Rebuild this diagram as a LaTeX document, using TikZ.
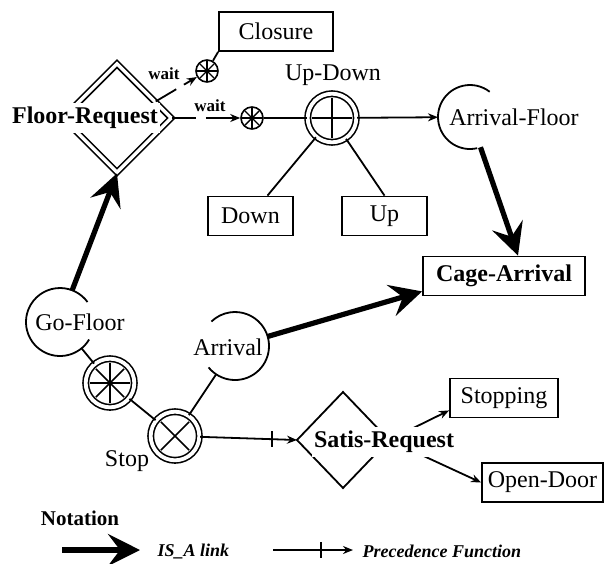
\documentclass[tikz,border=0pt]{standalone}
\usepackage{fontspec}
\setmainfont{Liberation Serif}
\usetikzlibrary{shapes.geometric,arrows.meta,calc}
\begin{document}
\begin{tikzpicture}[x=0.5pt,y=-0.5pt,line width=0.9pt,>={Stealth[length=5pt,width=4pt]},
	every node/.style={font=\fontsize{12}{14}\selectfont},
	box/.style={draw,rectangle,minimum height=19.5pt,inner sep=1pt},
	dcirc/.style={draw,circle,double,double distance=1.9pt,line width=0.8pt,minimum size=24.3pt,inner sep=0pt},
	wcirc/.style={draw,circle,line width=0.8pt,minimum size=11pt,inner sep=0pt},
	ecirc/.style={circle,minimum size=#1,inner sep=0pt,outer sep=0pt},
	lbl/.style={fill=white,inner xsep=1pt,inner ysep=2pt},
	boldlbl/.style={font=\fontsize{12}{14}\selectfont\bfseries},
	waitlbl/.style={font=\fontsize{8.5}{10}\selectfont\bfseries},
	notelbl/.style={font=\fontsize{9}{11}\selectfont\bfseries\itshape,anchor=west},
	isa/.style={line width=2.6pt,-{Stealth[length=16pt,width=16pt,inset=6pt]}},
	tickmark/.style={minimum height=7pt,minimum width=0pt,inner sep=0pt}]
	\useasboundingbox (0,0) rectangle (604,563);
	\node[box,minimum width=57pt] (closure) at (276,31.5) {Closure};
	\node[draw,diamond,double,double distance=1.7pt,line width=0.8pt,minimum width=54.5pt,minimum height=54.5pt,inner sep=0pt] (freq) at (117,118) {};
	\node[wcirc] (w1) at (207,71) {};
	\node[wcirc] (w2) at (252,118) {};
	\node[dcirc] (ud) at (332,118) {};
	\node (udlbl) at (333,75) {Up-Down};
	\node[ecirc=32pt] (af) at (470,117) {};
	\node[box,minimum width=42.5pt] (down) at (250.5,216) {Down};
	\node[box,minimum width=42.5pt] (up) at (384.5,216) {Up};
	\node[box,boldlbl,minimum width=81pt] (cage) at (504,276) {Cage-Arrival};
	\node[ecirc=34pt] (gf) at (60,322) {};
	\node[ecirc=34pt] (arr) at (235,346) {};
	\node[dcirc] (wh) at (110,383) {};
	\node[dcirc] (stop) at (175,436) {};
	\node (stoplbl) at (127,461) {Stop};
	\node[diamond,minimum width=46pt,minimum height=48pt,inner sep=0pt,outer sep=0pt] (sr) at (343,440) {};
	\node[box,minimum width=54pt] (stopping) at (504,398) {Stopping};
	\node[box,minimum width=60.5pt] (od) at (542.5,482.5) {Open-Door};

	\draw (af.center) ++(77:32) arc[start angle=77,end angle=308,radius=32];
	\draw (gf.center) ++(31:34) arc[start angle=31,end angle=324,radius=34];
	\draw (arr.center) ++(141:34) arc[start angle=141,end angle=-134,radius=34];
	\draw ($(sr.north)!.76!(sr.east)$) -- (sr.north) -- (sr.west) -- (sr.south) -- ($(sr.south)!.8!(sr.east)$);

	\draw[line width=0.8pt] (ud.center) ++(-20,0) -- ++(40,0) (ud.center) ++(0,-20) -- ++(0,40);
	\foreach \a in {0,45,90,135}
		\draw[line width=0.8pt] (wh.center) ++(\a:20) -- ++(\a:-40);
	\foreach \a in {45,135}
		\draw[line width=0.8pt] (stop.center) ++(\a:20) -- ++(\a:-40);
	\foreach \c in {w1,w2}
		\foreach \a in {0,45,90,135}
			\draw[line width=0.7pt] (\c.center) ++(\a:10) -- ++(\a:-20);

	\draw (closure.south west) -- (w1);
	\coordinate (fr1) at ($(freq.north)!.7!(freq.east)$);
	\draw (fr1) -- ($(fr1)!.4!(w1)$);
	\draw[->] ($(fr1)!.55!(w1)$) -- (w1);
	\node[waitlbl] (wait1) at (164,74) {wait};
	\draw (freq.east) -- ($(freq.east)!.3!(w2)$);
	\draw[->] ($(freq.east)!.42!(w2)$) -- (w2);
	\node[waitlbl] (wait2) at (210,106) {wait};
	\draw (w2) -- (ud);
	\draw[->] (ud) -- (af);
	\draw (ud) -- (down);
	\draw (ud) -- (up.north);
	\draw[isa] (af) -- ([xshift=7pt]cage.north);
	\draw[isa] (arr) -- ([yshift=2.5pt]cage.south west);
	\draw[isa] (gf) -- (freq.south);
	\draw (gf) -- (wh);
	\draw (wh) -- (stop);
	\draw (stop) -- (arr);
	\draw[->] (stop) -- node[tickmark,pos=.74] (tk) {} (sr.west);
	\draw (tk.north) -- (tk.south);
	\draw[->] (sr.east) -- ([yshift=4pt]stopping.south west);
	\draw[->] (sr.east) -- (od.west);

	\node[lbl,boldlbl] (frlbl) at (85,118) {Floor-Request};
	\node[lbl,boldlbl] (srlbl) at (384,442) {Satis-Request};
	\node (gflbl) at (80,322) {Go-Floor};
	\node (arrlbl) at (228,347) {Arrival};
	\node (aflbl) at (514,117) {Arrival-Floor};

	\node[font=\fontsize{10.5}{12}\selectfont\bfseries] (notation) at (80,518) {Notation};
	\coordinate (isaa) at (62,550);
	\coordinate (isab) at (140,550);
	\draw[isa] (isaa) -- (isab);
	\node[notelbl] (isalbl) at (150,551) {IS\_A link};
	\coordinate (preca) at (273,550);
	\coordinate (precb) at (353,550);
	\draw[->] (preca) -- node[tickmark,pos=.6] (tk2) {} (precb);
	\draw (tk2.north) -- (tk2.south);
	\node[notelbl] (preclbl) at (355,551) {Precedence Function};
\end{tikzpicture}
\end{document}
